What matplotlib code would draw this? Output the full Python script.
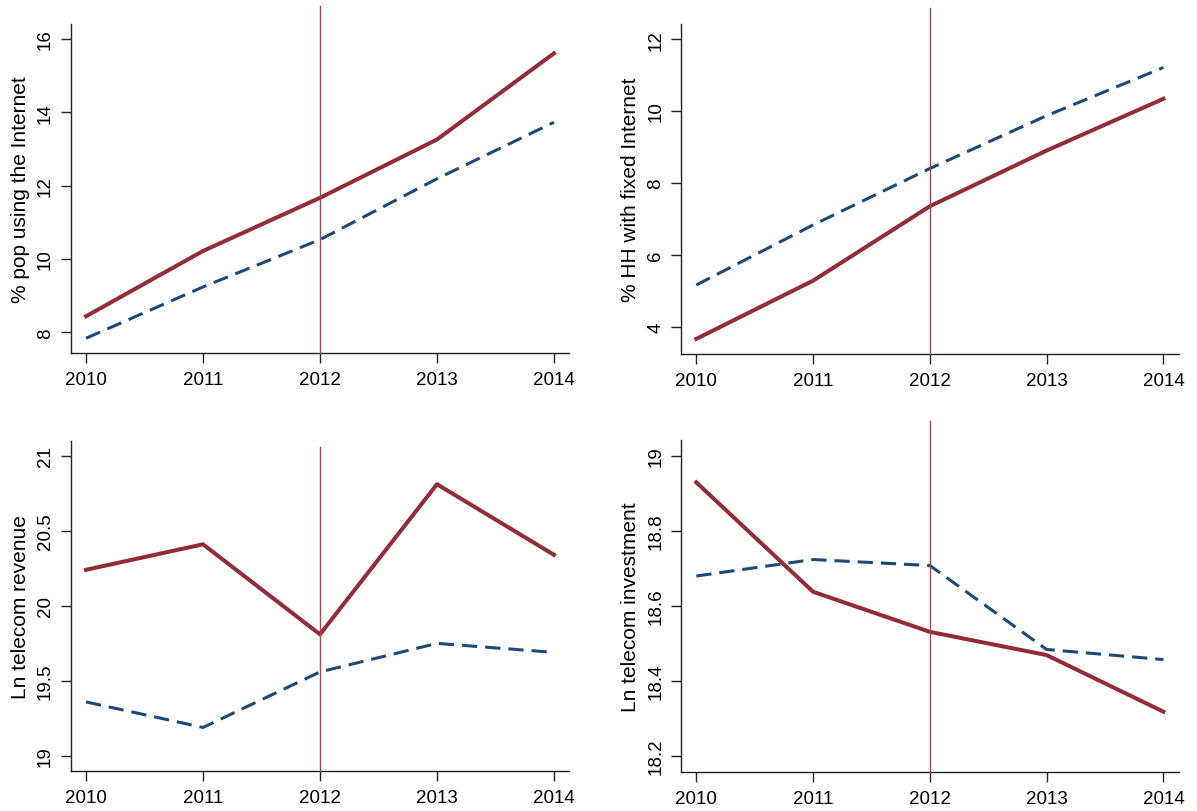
import numpy as np
import matplotlib
matplotlib.use("Agg")
import matplotlib.pyplot as plt

plt.rcParams["font.family"] = ["Liberation Sans", "DejaVu Sans"]

# ---------------------------
# Data
# ---------------------------
years = [2010, 2011, 2012, 2013, 2014]

internet_red = [8.44, 10.22, 11.67, 13.26, 15.61]
internet_blue = [7.84, 9.24, 10.53, 12.19, 13.73]

fixed_red = [3.66, 5.28, 7.35, 8.90, 10.34]
fixed_blue = [5.16, 6.83, 8.40, 9.87, 11.21]

revenue_red = [20.24, 20.41, 19.81, 20.81, 20.34]
revenue_blue = [19.36, 19.19, 19.56, 19.75, 19.69]

invest_red = [18.93, 18.638, 18.531, 18.469, 18.318]
invest_blue = [18.680, 18.724, 18.708, 18.484, 18.457]

ylabels = ["% pop using the Internet", "% HH with fixed Internet",
           "Ln telecom revenue", "Ln telecom investment"]
yticks = [[8, 10, 12, 14, 16], [4, 6, 8, 10, 12],
          [19, 19.5, 20, 20.5, 21], [18.2, 18.4, 18.6, 18.8, 19]]
yticklabels = [["8", "10", "12", "14", "16"], ["4", "6", "8", "10", "12"],
               ["19", "19.5", "20", "20.5", "21"],
               ["18.2", "18.4", "18.6", "18.8", "19"]]

RED = "#922c36"
BLUE = "#1c4a75"
VLINE = "#b0404c"

W, H = 1197, 812
# axes boxes in pixels: left, right, top, bottom
boxes = [(70.7, 569.3, 25, 354.3), (681, 1178.7, 25, 355),
         (70.7, 569.3, 441.7, 772), (681, 1178.7, 441, 773)]
ylims = [(7.43, 16.41), (3.24, 12.42), (18.90, 21.10), (18.157, 19.043)]
vline_top = [1.055, 1.05, 0.98, 1.057]

series = [(internet_red, internet_blue), (fixed_red, fixed_blue),
          (revenue_red, revenue_blue), (invest_red, invest_blue)]

fig = plt.figure(figsize=(W / 100, H / 100), dpi=100)

for i, (l, r, t, b) in enumerate(boxes):
    ax = fig.add_axes([l / W, 1 - b / H, (r - l) / W, (b - t) / H])
    red, blue = series[i]
    ax.plot(years, blue, color=BLUE, lw=2.2, dashes=(5.0, 2.6),
            solid_capstyle="butt")
    ax.plot(years, red, color=RED, lw=2.9, solid_joinstyle="round")
    ax.axvline(2012, ymin=0, ymax=vline_top[i], color=VLINE, lw=1.0,
               clip_on=False, zorder=3)

    ax.set_xlim(2009.869, 2014.131)
    ax.set_ylim(*ylims[i])
    ax.set_xticks(years)
    ax.set_xticklabels([str(y) for y in years])
    ax.set_yticks(yticks[i])
    ax.set_yticklabels(yticklabels[i], rotation=90, va="center")

    for s in ("top", "right"):
        ax.spines[s].set_visible(False)
    for s in ("left", "bottom"):
        ax.spines[s].set_linewidth(1.0)
        ax.spines[s].set_color("#222222")

    ax.tick_params(axis="both", length=7, width=1.0, color="#222222",
                   labelsize=13.5)
    ax.tick_params(axis="x", pad=6)
    ax.tick_params(axis="y", pad=5)
    ax.set_ylabel(ylabels[i], fontsize=15, labelpad=5)

fig.savefig("out.png", dpi=100)
